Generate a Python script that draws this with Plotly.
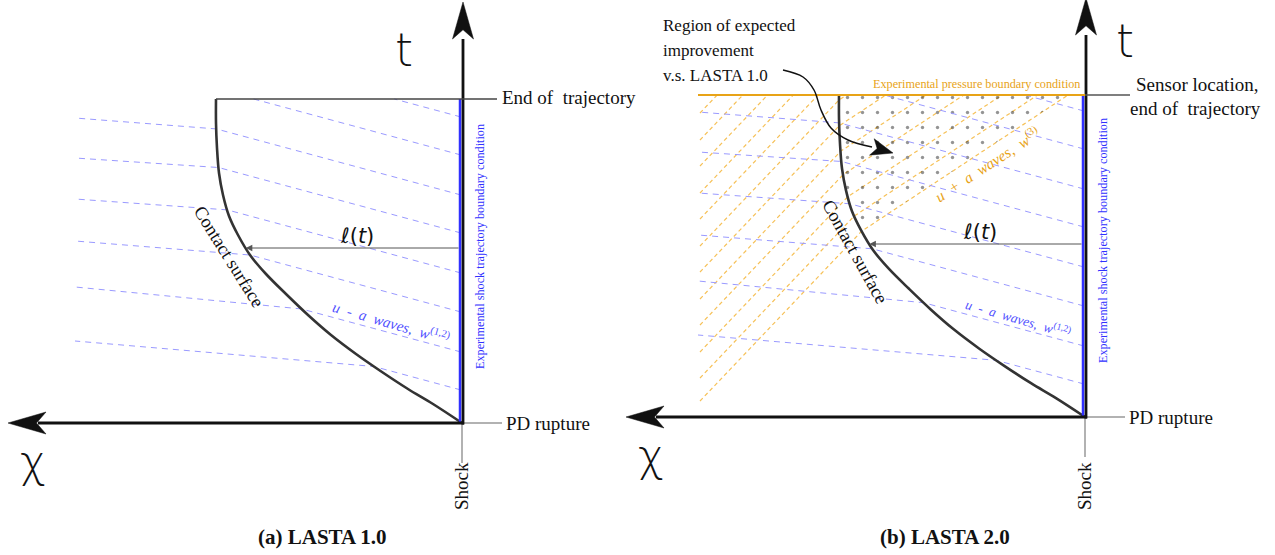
import numpy as np
import plotly.graph_objects as go

W, H = 1275, 555

# ---------------- data (diagram geometry, pixel space) ----------------
origin_a = (462, 423)          # PD rupture point, panel (a)
origin_b = (1085, 417)         # PD rupture point, panel (b)
height_a = 324                 # end of trajectory above origin
height_b = 322

# contact surface relative to origin (x left negative, y up negative)
contact_dx = [-246, -246, -245, -243, -239, -233, -224, -212, -196, -176, -154, -131, -106, -80, -54, -29, 0]
contact_dy = [-324, -300, -275, -250, -228, -207, -188, -168, -149, -129, -108, -88, -69, -51, -34, -19, 0]

# u - a waves: arrival on the shock line (relative y) and start on the left edge
wave_shock_y = [-306, -268, -228, -190, -150, -111, -71, -33]
wave_left_y = [None, None, -305, -265, -224, -182, -136, -82]
wave_left_x = -387
wave_slope_inner = 0.27

# u + a waves (panel b only): y where each wave leaves the left edge (absolute)
plus_left_x = 700
plus_y0 = [113, 140, 166, 193, 219, 246, 272, 299, 325, 352, 378, 401]
plus_slope_outer = 1.05
plus_slope_inner = 0.66

# curved annotation arrow (panel b)
curve_x = [783, 803, 814, 821, 831, 848, 872]
curve_y = [70, 77, 90, 110, 128, 140, 147]
curve_tip = (893, 153)

BLACK = "#111111"
DARK = "#333333"
BLUE = "#3030ff"
LBLUE = "#9a9aff"
ORANGE = "#e8a317"
LORANGE = "#f6c158"
SERIF = "Liberation Serif"

fig = go.Figure()


def add_line(xs, ys, color, width, dash=None, shape="linear"):
    fig.add_trace(go.Scatter(x=list(xs), y=list(ys), mode="lines",
                             line=dict(color=color, width=width, dash=dash, shape=shape),
                             hoverinfo="skip", showlegend=False))


def add_poly(xs, ys, color):
    fig.add_trace(go.Scatter(x=list(xs), y=list(ys), mode="lines", fill="toself",
                             fillcolor=color, line=dict(color=color, width=0.5),
                             hoverinfo="skip", showlegend=False))


def stealth(tip, tail, length, half_w):
    tx, ty = tip
    dx, dy = tx - tail[0], ty - tail[1]
    n = np.hypot(dx, dy)
    ux, uy = dx / n, dy / n
    px, py = -uy, ux
    bx, by = tx - ux * length, ty - uy * length
    nx, ny = tx - ux * length * 0.75, ty - uy * length * 0.75
    xs = [tx, bx + px * half_w, nx, bx - px * half_w, tx]
    ys = [ty, by + py * half_w, ny, by - py * half_w, ty]
    return xs, ys


def text(x, y, s, size, color=BLACK, family=SERIF, angle=0, xanchor="center", weight=None):
    f = dict(size=size, color=color, family=family)
    if weight:
        f["weight"] = weight
    fig.add_annotation(x=x, y=y, xref="x", yref="y", text=s, showarrow=False,
                       font=f, textangle=angle, xanchor=xanchor, yanchor="middle")


def contact_abs(origin, height):
    ox, oy = origin
    sc = height / 324.0
    return [ox + d for d in contact_dx], [oy + d * sc for d in contact_dy]


def contact_x_at(y, origin, height):
    cx, cy = contact_abs(origin, height)
    return np.interp(y, cy, cx)


def draw_panel(origin, height, panel):
    ox, oy = origin
    top = oy - height
    cx, cy = contact_abs(origin, height)

    # ---- u - a waves (blue dashed)
    for ysh, yl in zip(wave_shock_y, wave_left_y):
        y_s = oy + ysh
        ys = np.linspace(y_s, top, 4000)
        x_line = (ox - 1) - (y_s - ys) / wave_slope_inner
        x_c = np.interp(ys, cy, cx)
        idx = np.where(x_line <= x_c)[0]
        if len(idx):
            k = idx[0]
            px, py = x_c[k], ys[k]
        else:
            px, py = x_line[-1], top
        xs, yy = [ox - 1, px], [y_s, py]
        if yl is not None:
            xs.append(ox + wave_left_x)
            yy.append(oy + yl)
        add_line(xs, yy, LBLUE, 1, dash="6px,5px")

    # ---- contact surface
    add_line(cx, cy, DARK, 2.6, shape="spline")

    # ---- shock (experimental trajectory) line
    add_line([ox - 2, ox - 2], [top, oy], BLUE, 2.5)

    # ---- l(t) arrow
    ly = oy - 175 if panel == "a" else oy - 173
    lx = contact_x_at(ly, origin, height)
    fig.add_annotation(x=lx, y=ly, ax=ox - 2, ay=ly, xref="x", yref="y", axref="x", ayref="y",
                       text="", showarrow=True, arrowhead=2, arrowsize=1.3, arrowwidth=1,
                       arrowcolor="#555555")
    text((ox + lx) / 2 + 3, ly - 12, "ℓ(<i>t</i>)", 21, color=BLACK, family="DejaVu Sans")

    # ---- helper lines (PD rupture, shock)
    add_line([ox, ox + 40], [oy, oy], "#999999", 1.5)
    add_line([ox, ox], [oy, oy + 40], "#999999", 1.5)
    text(ox + 42, oy, "PD rupture", 19, xanchor="left")
    text(ox - 1, 486, "Shock", 19, angle=-90)

    # ---- axes with stealth arrow heads
    add_line([ox + 1, ox + 1], [oy + 1.5, oy - height - 60], BLACK, 2.8)
    hx, hy = stealth((ox + 1, oy - height - 97), (ox + 1, oy), 37, 10.5)
    add_poly(hx, hy, BLACK)
    tip_x = ox - (454 if panel == "a" else 459)
    add_line([ox + 2, tip_x + 30], [oy, oy], BLACK, 2.8)
    hx, hy = stealth((tip_x, oy), (ox, oy), 38, 11)
    add_poly(hx, hy, BLACK)

    text(ox - 58 + (0 if panel == "a" else 98), oy - 373 + (0 if panel == "a" else -3),
         "t", 46, family="DejaVu Sans", weight=200)
    text(tip_x + 25, oy + 38, "χ", 44, family="DejaVu Sans", weight=200)

    # ---- vertical boundary condition label
    text(ox + 18, oy - 176, "Experimental shock trajectory boundary condition", 12.2,
         color=BLUE, angle=-90)

    return top, cx, cy


# ================= panel (a) =================
ox, oy = origin_a
top_a, cxa, cya = draw_panel(origin_a, height_a, "a")
add_line([cxa[0], ox + 35], [top_a, top_a], "#444444", 1.3)
text(ox + 38, top_a - 2, "End of  trajectory", 19, xanchor="left")
text(229, 257, "Contact surface", 18.5, angle=58)
text(391, 322, "<i>u  -  a  waves,  w</i><sup>(1,2)</sup>", 15, color="#5050ff", angle=16)
text(322, 537, "<b>(a) LASTA 1.0</b>", 21)

# ================= panel (b) =================
ox, oy = origin_b
top_b = oy - height_b
cxb, cyb = contact_abs(origin_b, height_b)

# u + a waves (orange dashed)
hit_pt = None
end_pt = None
for y0 in plus_y0:
    ys = np.linspace(y0, top_b, 4000)
    x_line = plus_left_x + (y0 - ys) / plus_slope_outer
    x_c = np.interp(ys, cyb, cxb)
    idx = np.where(x_line >= x_c)[0]
    xs, yy = [plus_left_x], [y0]
    if len(idx):
        k = idx[0]
        hx_, hy_ = x_c[k], ys[k]
        xs.append(hx_)
        yy.append(hy_)
        ex = hx_ + (hy_ - top_b) / plus_slope_inner
        ey = top_b
        if ex > ox - 3:
            ex = ox - 3
            ey = hy_ - (ex - hx_) * plus_slope_inner
        xs.append(ex)
        yy.append(ey)
        hit_pt, end_pt = (hx_, hy_), (ex, ey)
    else:
        xs.append(x_line[-1])
        yy.append(top_b)
    add_line(xs, yy, LORANGE, 1.2, dash="4px,3px")

# dotted region of expected improvement
mask = np.array(cyb) < hit_pt[1]
rx = [c for c, m in zip(cxb, mask) if m] + [hit_pt[0], end_pt[0], ox - 3, cxb[0]]
ry = [c for c, m in zip(cyb, mask) if m] + [hit_pt[1], end_pt[1], top_b, cyb[0]]
fig.add_trace(go.Scatter(x=rx, y=ry, mode="lines", fill="toself",
                         fillcolor="rgba(255,255,255,0)", line=dict(width=0, color="rgba(0,0,0,0)"),
                         fillpattern=dict(shape=".", fgcolor="#2a2a2a", bgcolor="rgba(255,255,255,0)",
                                          size=15, solidity=0.04, fillmode="overlay"),
                         hoverinfo="skip", showlegend=False))

draw_panel(origin_b, height_b, "b")

# experimental pressure boundary (top, orange)
add_line([698, ox], [top_b, top_b], ORANGE, 2)
add_line([ox, ox + 45], [top_b, top_b], "#555555", 1.3)
text(976, top_b - 11, "Experimental pressure boundary condition", 12.2, color=ORANGE)
text(1197, 84, "Sensor location,", 19)
text(1195, 108, "end of  trajectory", 19)

text(855, 252, "Contact surface", 18.5, angle=61)
text(1018, 318, "<i>u  -  a  waves,  w</i><sup>(1,2)</sup>", 13.5, color="#5050ff", angle=16)
text(987, 164, "<i>u  +  a  waves,  w</i><sup>(3)</sup>", 15.5, color=ORANGE, angle=-33)
text(945, 537, "<b>(b) LASTA 2.0</b>", 21)

# region annotation + curved arrow
text(661, 25, "Region of expected", 17, xanchor="left")
text(661, 50, "improvement", 17, xanchor="left")
text(661, 75, "v.s. LASTA 1.0", 17, xanchor="left")
add_line(curve_x, curve_y, BLACK, 1.5, shape="spline")
hx, hy = stealth(curve_tip, (curve_x[-1], curve_y[-1]), 22, 8.5)
add_poly(hx, hy, BLACK)

fig.update_layout(
    width=W, height=H, margin=dict(l=0, r=0, t=0, b=0),
    paper_bgcolor="white", plot_bgcolor="white",
    xaxis=dict(range=[0, W], visible=False, fixedrange=True),
    yaxis=dict(range=[H, 0], visible=False, fixedrange=True),
    showlegend=False,
)
fig.write_html("out.html")
